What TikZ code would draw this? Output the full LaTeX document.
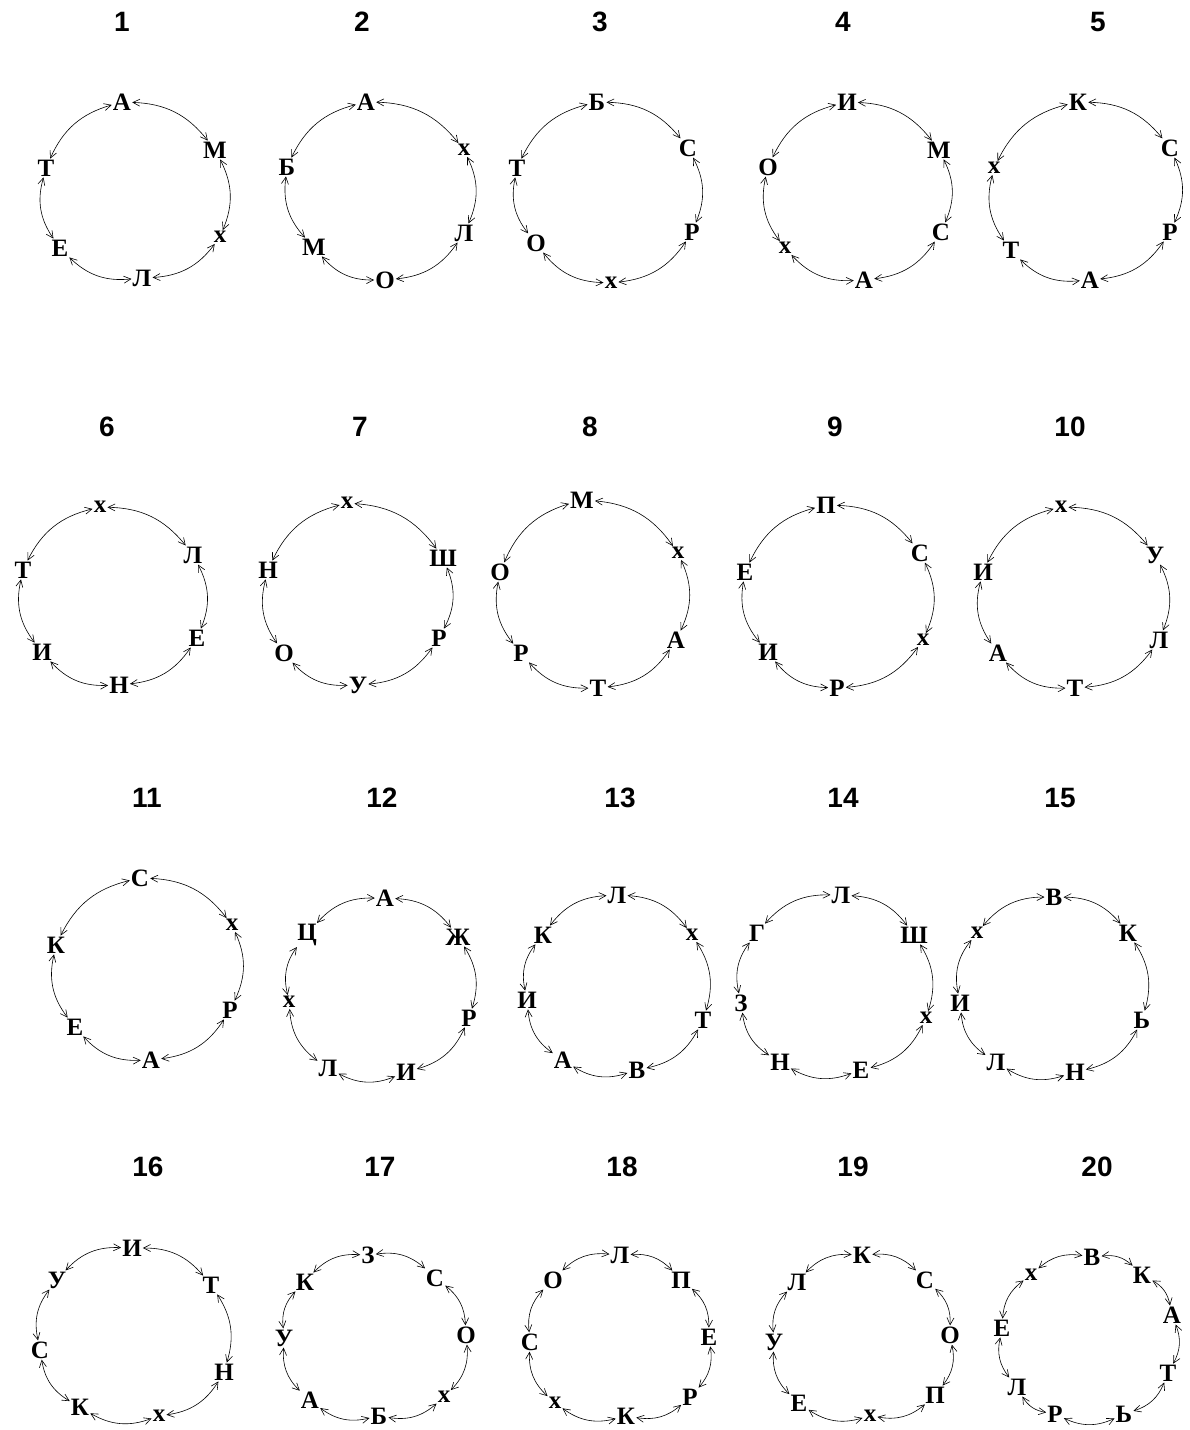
\documentclass[tikz,border=0pt]{standalone}
\usepackage{fontspec}
\setmainfont{Liberation Serif}
\newfontfamily\numfont{Liberation Sans}
\usetikzlibrary{arrows.meta}

% one ring of letters: #1 name, #2 list letter/x/y going clockwise
\newcommand\ring[2]{%
  \foreach \l/\x/\y [count=\i] in {#2} {
    \node[ltr] (#1-\i) at (\x,\y) {\l};
    \xdef\ringn{\i}
  }
  \foreach \i [remember=\i as \j (initially \ringn)] in {1,...,\ringn}
    \draw[conn] (#1-\j) to[bend left=25] (#1-\i);
}

\begin{document}
\begin{tikzpicture}[x=1pt, y=-1pt,
  ltr/.style={font=\bfseries\fontsize{25}{25}\selectfont, inner sep=1pt},
  num/.style={font=\numfont\bfseries\fontsize{28}{28}\selectfont},
  conn/.style={{Straight Barb[length=7pt,width=7pt]}-{Straight Barb[length=7pt,width=7pt]}, line width=0.6pt}]
  \useasboundingbox (0,0) rectangle (1190,1430);

  % numbers
  \foreach \n/\x/\y in {1/122/22, 2/362/22, 3/600/22, 4/843/22, 5/1098/22,
      6/107/427, 7/360/427, 8/590/427, 9/835/427, 10/1070/427,
      11/147/798, 12/382/798, 13/620/798, 14/843/798, 15/1060/798,
      16/148/1167, 17/380/1167, 18/622/1167, 19/853/1167, 20/1097/1167}
    \node[num] (n\n) at (\x,\y) {\n};

  % first row
  \ring{a}{А/122/102, М/215/150, х/220/237, Л/142/278, Е/60/248, Т/46/168}
  \ring{b}{А/366/102, х/464/150, Л/464/233, О/385/280, М/314/247, Б/287/167}
  \ring{c}{Б/597/102, С/688/148, Р/692/232, х/611/283, О/536/243, Т/517/168}
  \ring{d}{И/847/102, М/939/150, С/941/232, А/864/280, х/785/248, О/768/167}
  \ring{e}{К/1078/102, С/1170/148, Р/1170/232, А/1090/280, Т/1011/250, х/994/168}

  % second row
  \ring{f}{х/100/507, Л/193/555, Е/197/638, Н/119/685, И/42/652, Т/23/570}
  \ring{g}{х/347/503, Ш/443/558, Р/439/638, У/358/685, О/284/653, Н/268/570}
  \ring{h}{М/582/500, х/678/553, А/676/640, Т/598/688, Р/521/653, О/500/572}
  \ring{i}{П/826/505, С/920/553, х/923/640, Р/837/688, И/768/652, Е/745/572}
  \ring{j}{х/1061/507, У/1155/555, Л/1159/640, Т/1075/688, А/998/653, И/983/572}

  % third row
  \ring{k}{С/140/878, х/232/925, Р/230/1010, А/151/1060, Е/75/1027, К/56/945}
  \ring{l}{А/385/898, Ж/458/937, Р/469/1018, И/406/1072, Л/328/1068, х/289/1002, Ц/307/935}
  \ring{m}{Л/617/895, х/692/935, Т/703/1020, В/637/1070, А/563/1060, И/527/1000, К/543/935}
  \ring{o}{Л/841/895, Ш/914/935, х/926/1018, Е/861/1070, Н/780/1062, З/741/1003, Г/757/933}
  \ring{p}{В/1054/897, К/1128/933, Ь/1142/1020, Н/1075/1072, Л/996/1062, И/960/1003, х/977/933}

  % fourth row
  \ring{q}{И/132/1248, Т/211/1285, Н/224/1372, х/159/1416, К/80/1407, С/40/1350, У/57/1280}
  \ring{r}{З/368/1255, С/435/1278, О/466/1335, х/444/1397, Б/379/1416, А/310/1400, У/284/1338, К/305/1282}
  \ring{s}{Л/620/1255, П/681/1280, Е/709/1337, Р/690/1397, К/626/1416, х/555/1403, С/530/1342, О/553/1280}
  \ring{t}{К/862/1255, С/925/1280, О/950/1335, П/935/1395, х/870/1416, Е/799/1403, У/774/1342, Л/797/1282}
  \ring{u}{В/1092/1257, К/1142/1275, А/1172/1315, Т/1168/1373, Ь/1124/1414, Р/1055/1414, Л/1017/1387, Е/1002/1328, х/1031/1275}
\end{tikzpicture}
\end{document}
